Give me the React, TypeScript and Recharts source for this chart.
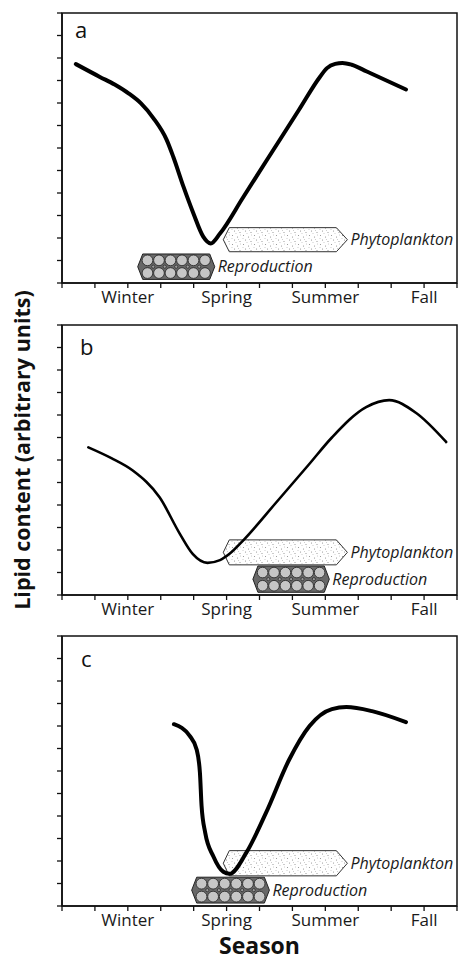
import React from 'react';
import { LineChart, Line, XAxis, YAxis, ReferenceArea } from 'recharts';

// ---- axis ticks and labels ----
const seasonTicks = [0, 1, 2, 3, 4, 5, 6, 7, 8, 9, 10, 11, 12];
const seasonLabels = ['Winter', 'Spring', 'Summer', 'Fall'];
const seasonLabelAt = [2, 5, 8, 11];
const lipidTicks = [0, 1, 2, 3, 4, 5, 6, 7, 8, 9, 10, 11, 12];
const panelLetters = ['a', 'b', 'c'];
const barLabels = ['Phytoplankton', 'Reproduction'];

// ---- panel a ----
const seasonA = [0.42, 1.15, 1.6, 2.02, 2.4, 2.78, 3.18, 3.38, 3.69, 3.99, 4.29, 4.52, 4.8, 5.5, 6.2, 7.2, 7.84, 8.05, 8.3, 8.52, 8.8, 9.26, 10.45];
const lipidA = [9.73, 9.16, 8.82, 8.43, 7.98, 7.32, 6.36, 5.61, 4.28, 3.1, 2.06, 1.76, 2.2, 3.8, 5.41, 7.7, 9.17, 9.55, 9.74, 9.78, 9.7, 9.4, 8.6];

// ---- panel b ----
const seasonB = [0.8, 1.5, 2.15, 2.97, 3.58, 3.97, 4.42, 4.8, 5.09, 5.5, 6.5, 7.5, 8.2, 9.24, 9.94, 10.75, 11.67];
const lipidB = [6.56, 6.08, 5.53, 4.33, 2.72, 1.83, 1.43, 1.55, 1.83, 2.42, 4.1, 5.8, 7.0, 8.35, 8.66, 8.1, 6.8];

// ---- panel c ----
const seasonC = [3.4, 3.88, 4.09, 4.19, 4.24, 4.35, 4.6, 4.9, 5.09, 5.6, 6.2, 6.9, 7.52, 8.2, 8.64, 9.42, 10.45];
const lipidC = [8.08, 7.56, 6.96, 5.93, 4.45, 3.26, 2.2, 1.52, 1.43, 2.37, 4.15, 6.5, 8.0, 8.75, 8.84, 8.66, 8.17];

// ---- event bars (season range, lipid range) ----
const phytoX = [[4.9, 8.67], [4.9, 8.67], [4.9, 8.67]];
const phytoY = [[1.39, 2.46], [1.34, 2.45], [1.34, 2.46]];
const reproX = [[2.3, 4.64], [5.8, 8.12], [3.94, 6.3]];
const reproY = [[0.16, 1.29], [0.12, 1.29], [0.13, 1.28]];

const FONT = '"Open Sans", "Noto Sans", sans-serif';

const fmtSeason = (v: number) => {
  const i = seasonLabelAt.indexOf(v);
  return i >= 0 ? seasonLabels[i] : '';
};

const letterPos = [
  { dx: 13, dy: 25 },
  { dx: 18, dy: 30 },
  { dx: 19, dy: 31 },
];

function makeFrame(idx: number) {
  return (p: any) => (
    <g>
      <rect x={p.x} y={p.y} width={p.width} height={p.height} fill="none" stroke="#111" strokeWidth={1.5} />
      <text x={p.x + letterPos[idx].dx} y={p.y + letterPos[idx].dy} fontSize={22} fontFamily={FONT} fill="#111">
        {panelLetters[idx]}
      </text>
    </g>
  );
}

function makePhyto(idx: number) {
  return (p: any) => {
    const { x, y, width: w, height: h } = p;
    const cy = y + h / 2;
    const li = 6;
    const ri = 11;
    const pts = `${x},${cy} ${x + li},${y} ${x + w - ri},${y} ${x + w},${cy} ${x + w - ri},${y + h} ${x + li},${y + h}`;
    const pid = `stipple-${idx}`;
    return (
      <g>
        <defs>
          <pattern id={pid} width={11} height={9} patternUnits="userSpaceOnUse">
            <rect width={11} height={9} fill="#fff" />
            <circle cx={1.5} cy={1.5} r={0.55} fill="#8a8a8a" />
            <circle cx={6.5} cy={3} r={0.55} fill="#8a8a8a" />
            <circle cx={3.5} cy={6} r={0.55} fill="#8a8a8a" />
            <circle cx={9} cy={7.5} r={0.55} fill="#8a8a8a" />
            <circle cx={9.5} cy={1} r={0.45} fill="#9a9a9a" />
            <circle cx={5} cy={8.5} r={0.45} fill="#9a9a9a" />
            <circle cx={1} cy={4.5} r={0.45} fill="#9a9a9a" />
            <circle cx={7.5} cy={5.5} r={0.45} fill="#9a9a9a" />
          </pattern>
        </defs>
        <polygon points={pts} fill={`url(#${pid})`} stroke="#333" strokeWidth={1} />
        <text x={x + w + 3} y={cy + 5.5} fontSize={16} fontStyle="italic" fontFamily={FONT} fill="#1a1a1a">
          {barLabels[0]}
        </text>
      </g>
    );
  };
}

function makeRepro() {
  return (p: any) => {
    const { x, y, width: w, height: h } = p;
    const cy = y + h / 2;
    const ind = 5;
    const pts = `${x},${cy} ${x + ind},${y} ${x + w - ind},${y} ${x + w},${cy} ${x + w - ind},${y + h} ${x + ind},${y + h}`;
    const cols = 6;
    const innerX = x + ind - 1;
    const innerW = w - 2 * ind + 2;
    const colW = innerW / cols;
    const rowH = h / 2;
    const r = Math.min(colW, rowH) / 2 - 0.4;
    const circles: any[] = [];
    for (let row = 0; row < 2; row++) {
      for (let c = 0; c < cols; c++) {
        circles.push(
          <circle key={`c${row}-${c}`} cx={innerX + (c + 0.5) * colW} cy={y + (row + 0.5) * rowH} r={r} fill="#c6c6c6" stroke="#222" strokeWidth={0.8} />
        );
      }
    }
    const dots: any[] = [];
    for (let c = 1; c < cols; c++) {
      dots.push(<circle key={`d${c}`} cx={innerX + c * colW} cy={cy} r={1.6} fill="#9a9a9a" stroke="#222" strokeWidth={0.7} />);
    }
    return (
      <g>
        <polygon points={pts} fill="#686868" stroke="#222" strokeWidth={1} />
        {circles}
        {dots}
        <text x={x + w + 3} y={cy + 5.5} fontSize={16} fontStyle="italic" fontFamily={FONT} fill="#1a1a1a">
          {barLabels[1]}
        </text>
      </g>
    );
  };
}

interface PanelProps {
  idx: number;
  top: number;
  height: number;
  xs: number[];
  ys: number[];
  strokeWidth: number;
  showSeason?: boolean;
}

function Panel({ idx, top, height, xs, ys, strokeWidth, showSeason }: PanelProps) {
  const data = xs.map((s, i) => ({ season: s, lipid: ys[i] }));
  const axisH = height - 13 - 270;
  return (
    <div style={{ position: 'absolute', left: 0, top }}>
      <LineChart width={459} height={height} data={data} margin={{ top: 13, right: 2, left: 0, bottom: 0 }}>
        <XAxis
          dataKey="season"
          type="number"
          domain={[0, 12]}
          ticks={seasonTicks}
          interval={0}
          tickFormatter={fmtSeason}
          tickSize={5}
          tickMargin={3}
          height={axisH}
          allowDataOverflow
          axisLine={{ stroke: '#111', strokeWidth: 1.6 }}
          tickLine={{ stroke: '#111', strokeWidth: 1.3 }}
          tick={{ fontSize: 17, fill: '#1a1a1a', fontFamily: FONT }}
          label={
            showSeason
              ? { value: 'Season', position: 'insideBottom', offset: 7, fontSize: 23, fontWeight: 700, fill: '#111', fontFamily: FONT }
              : undefined
          }
        />
        <YAxis
          type="number"
          domain={[0, 12]}
          ticks={lipidTicks}
          interval={0}
          width={62}
          tickSize={5}
          tickFormatter={() => ''}
          allowDataOverflow
          axisLine={{ stroke: '#111', strokeWidth: 1.6 }}
          tickLine={{ stroke: '#111', strokeWidth: 1.3 }}
        />
        <ReferenceArea x1={0} x2={12} y1={0} y2={12} ifOverflow="visible" shape={makeFrame(idx)} />
        <ReferenceArea x1={reproX[idx][0]} x2={reproX[idx][1]} y1={reproY[idx][0]} y2={reproY[idx][1]} ifOverflow="visible" shape={makeRepro()} />
        <ReferenceArea x1={phytoX[idx][0]} x2={phytoX[idx][1]} y1={phytoY[idx][0]} y2={phytoY[idx][1]} ifOverflow="visible" shape={makePhyto(idx)} />
        <Line type="monotone" dataKey="lipid" stroke="#000" strokeWidth={strokeWidth} dot={false} activeDot={false} isAnimationActive={false} strokeLinecap="round" />
      </LineChart>
    </div>
  );
}

export default function App() {
  return (
    <div style={{ position: 'absolute', left: 0, top: 0, width: 459, height: 961, background: '#fff', fontFamily: FONT }}>
      <Panel idx={0} top={0} height={312} xs={seasonA} ys={lipidA} strokeWidth={4} />
      <Panel idx={1} top={312} height={311} xs={seasonB} ys={lipidB} strokeWidth={2.6} />
      <Panel idx={2} top={623} height={338} xs={seasonC} ys={lipidC} strokeWidth={4} showSeason />
      <div
        style={{
          position: 'absolute',
          left: 22 - 200,
          top: 450 - 15,
          width: 400,
          height: 30,
          lineHeight: '30px',
          textAlign: 'center',
          transform: 'rotate(-90deg)',
          fontSize: 21.5,
          fontWeight: 700,
          color: '#111',
          fontFamily: FONT,
          whiteSpace: 'nowrap',
        }}
      >
        Lipid content (arbitrary units)
      </div>
    </div>
  );
}
